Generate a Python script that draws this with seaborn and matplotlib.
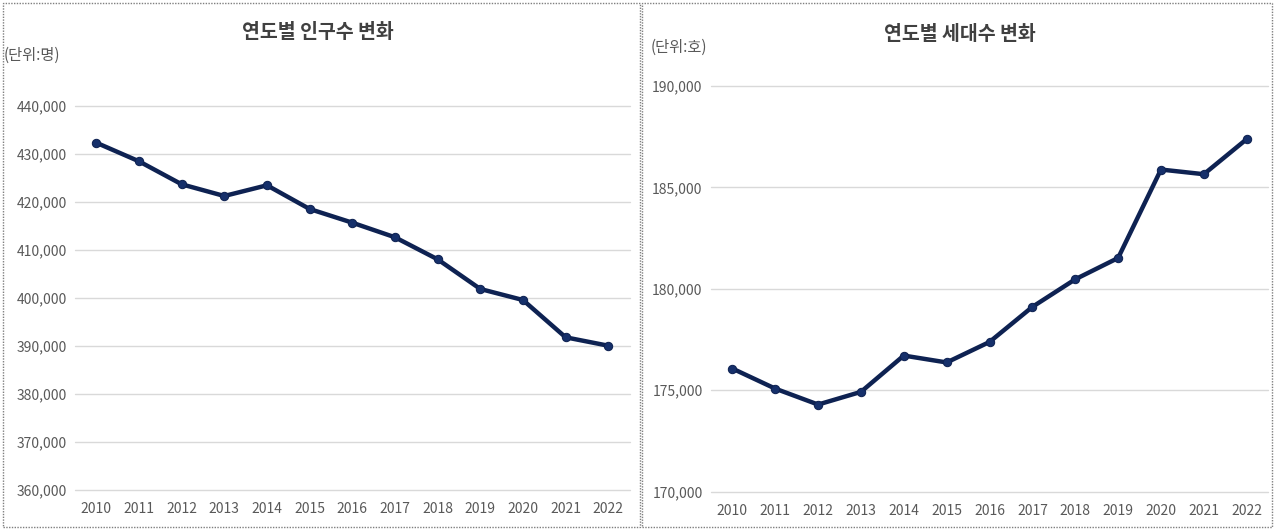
import matplotlib
matplotlib.use("Agg")
import matplotlib.pyplot as plt
import matplotlib.ticker as mticker
from matplotlib.patches import Rectangle
import seaborn as sns
import pandas as pd

years = ["2010", "2011", "2012", "2013", "2014", "2015", "2016",
         "2017", "2018", "2019", "2020", "2021", "2022"]
population = [432350, 428480, 423690, 421250, 423480, 418540, 415690,
              412650, 408060, 401880, 399580, 391810, 390060]
households = [176070, 175080, 174295, 174920, 176710, 176370, 177380,
              179110, 180470, 181520, 185880, 185650, 187380]

title_left = "연도별 인구수 변화"
title_right = "연도별 세대수 변화"
unit_left = "(단위:명)"
unit_right = "(단위:호)"

sns.set_theme(style="white")
plt.rcParams['font.family'] = ['Noto Sans CJK KR', 'DejaVu Sans']

LINE = "#0e2252"
TXT = "#595959"
GRID = "#d9d9d9"

fig = plt.figure(figsize=(12.75, 5.3), dpi=100)

ax1 = fig.add_axes([0.0588, 0.0755, 0.435, 0.7245])
ax2 = fig.add_axes([0.5576, 0.0723, 0.437, 0.7655])

df1 = pd.DataFrame({"year": years, "value": population})
df2 = pd.DataFrame({"year": years, "value": households})

for ax, df, lo, hi, step in [(ax1, df1, 360000, 440000, 10000),
                             (ax2, df2, 170000, 190000, 5000)]:
    sns.lineplot(data=df, x="year", y="value", ax=ax, color=LINE,
                 linewidth=3.2, marker="o", markersize=6,
                 markeredgecolor=LINE, markerfacecolor="#16306b", sort=False)
    ax.set_xlim(-0.5, len(years) - 0.5)
    ax.set_ylim(lo, hi)
    ax.yaxis.set_major_locator(mticker.MultipleLocator(step))
    ax.yaxis.set_major_formatter(mticker.FuncFormatter(lambda v, p: f"{int(v):,}"))
    ax.grid(axis="y", color=GRID, linewidth=1.0)
    ax.set_axisbelow(True)
    for s in ax.spines.values():
        s.set_visible(False)
    ax.tick_params(axis="both", length=0, labelsize=10, colors=TXT, pad=6)
    ax.tick_params(axis="x", pad=9)
    ax.set_xlabel("")
    ax.set_ylabel("")

fig.canvas.draw()
for ax in (ax1, ax2):
    for gl in ax.get_ygridlines():
        gl.set_clip_on(False)

fig.text(318 / 1275, 1 - 33 / 530, title_left, ha="center", va="center",
         fontsize=14, fontweight="bold", color="#404040")
fig.text(960 / 1275, 1 - 35 / 530, title_right, ha="center", va="center",
         fontsize=14, fontweight="bold", color="#404040")
fig.text(4 / 1275, 1 - 55 / 530, unit_left, ha="left", va="center",
         fontsize=11, color=TXT)
fig.text(651 / 1275, 1 - 47 / 530, unit_right, ha="left", va="center",
         fontsize=11, color=TXT)

for x0, x1 in [(3, 640), (642, 1272)]:
    fig.patches.append(Rectangle((x0 / 1275, 3 / 530), (x1 - x0) / 1275, 524 / 530,
                                 transform=fig.transFigure, fill=False,
                                 edgecolor="#7f7f7f", linewidth=1.0,
                                 linestyle=(0, (1, 1))))

fig.savefig("out.png", dpi=100, facecolor="white")
